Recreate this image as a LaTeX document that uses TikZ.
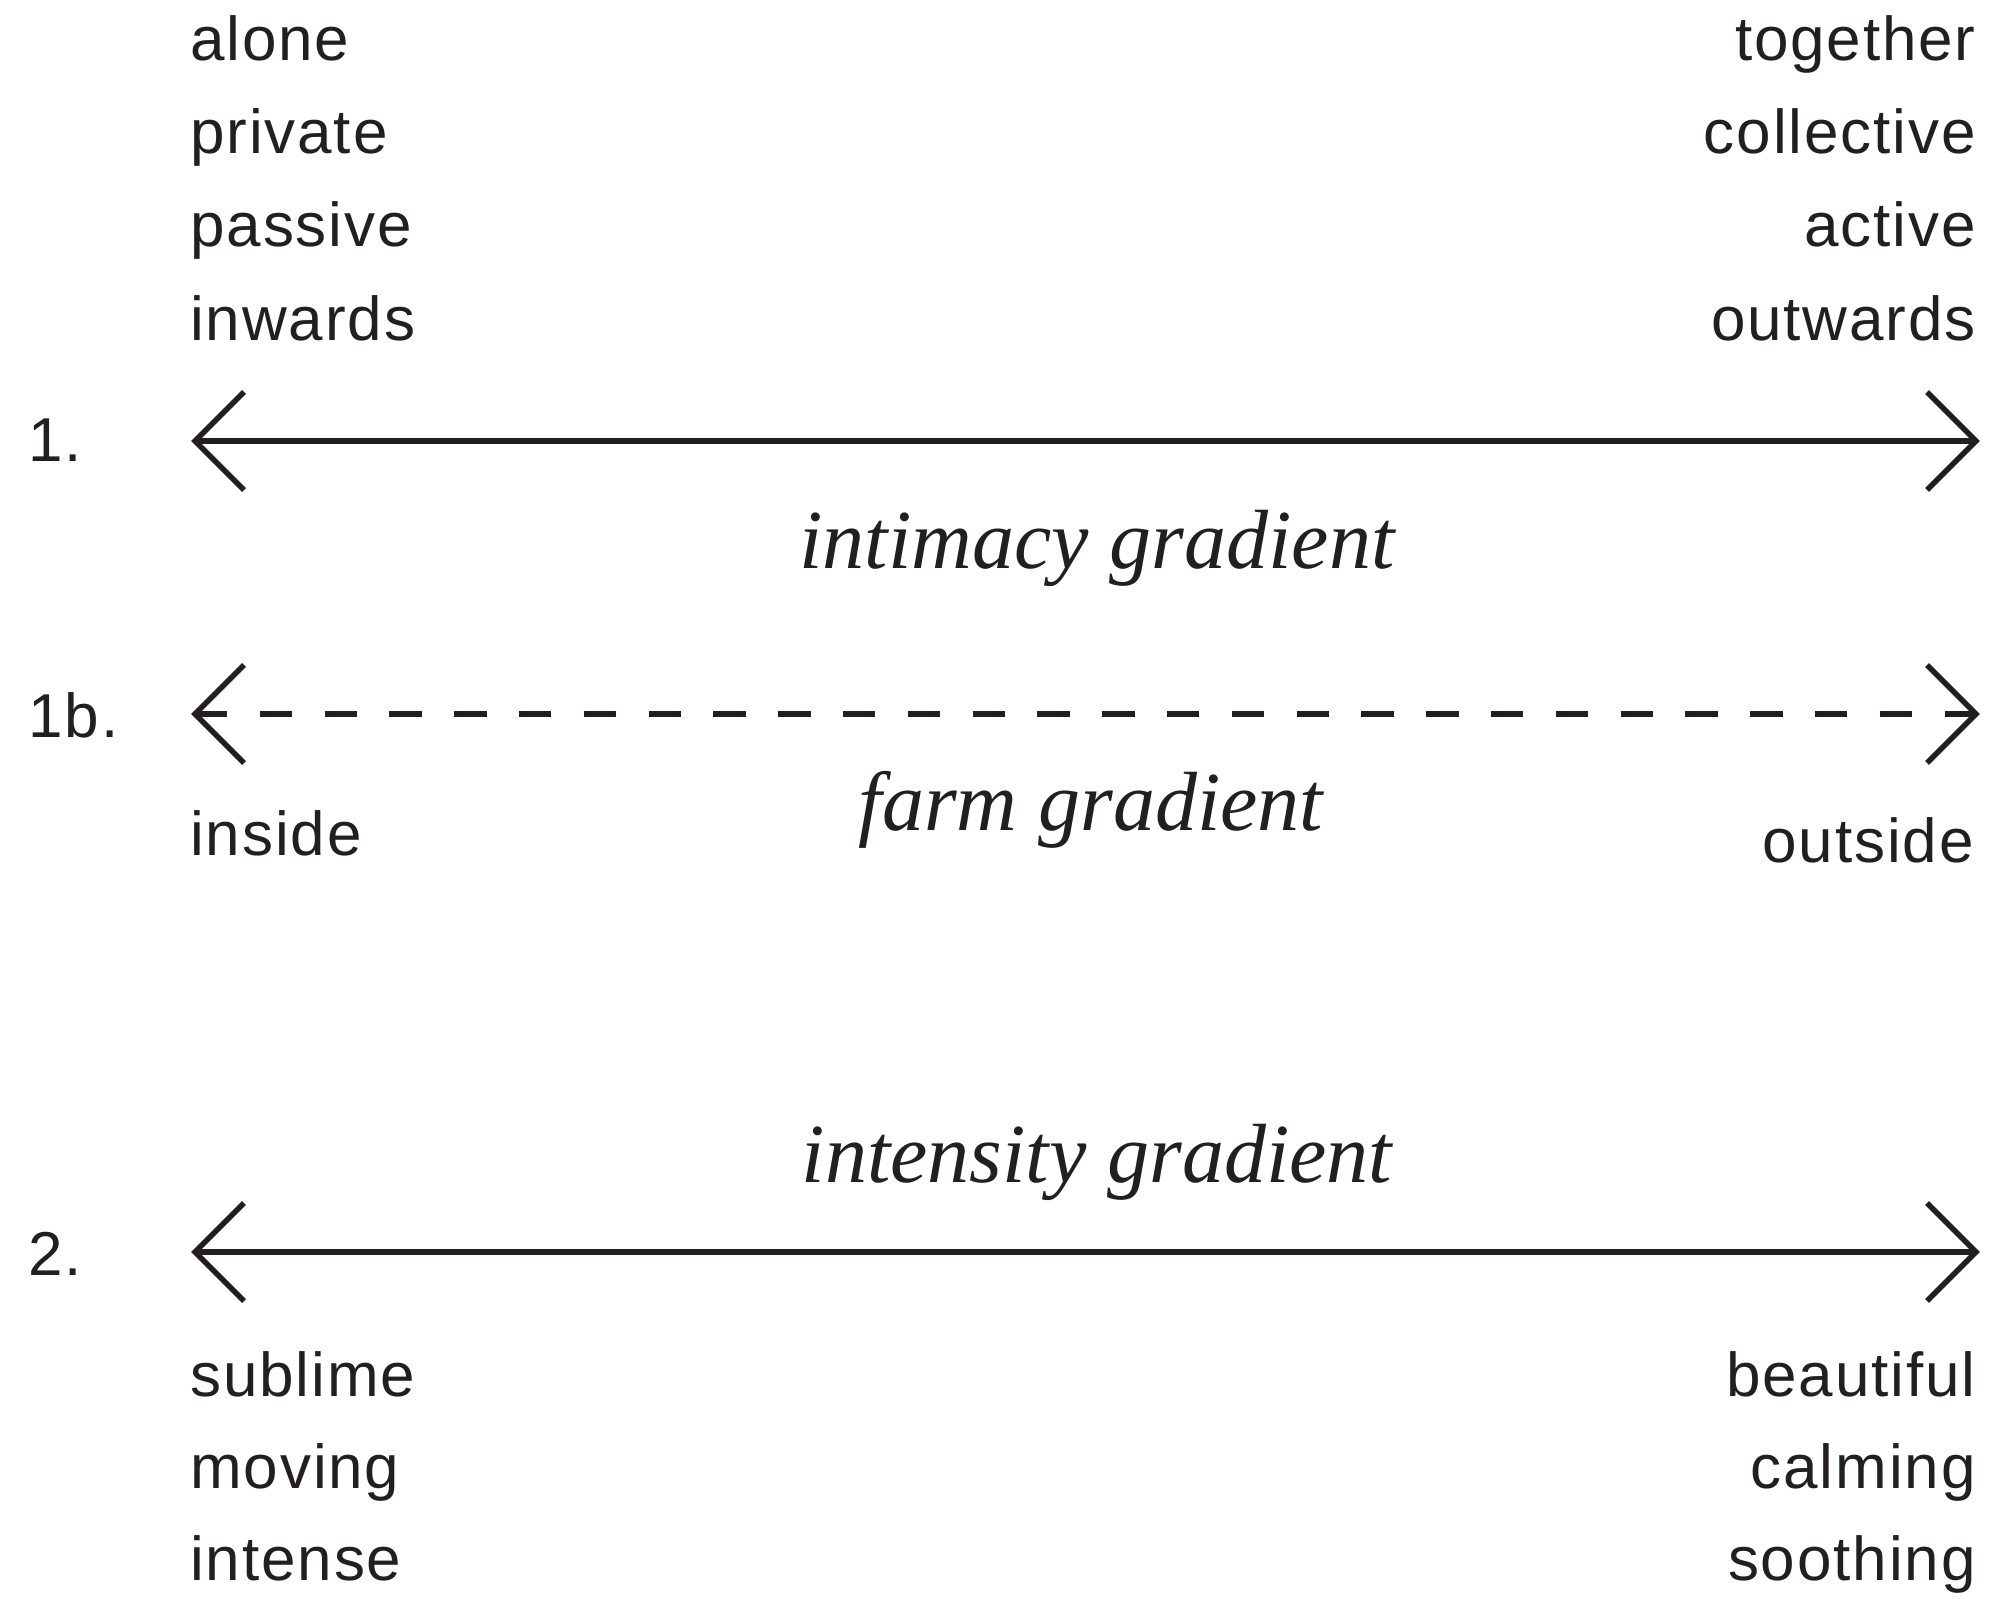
\documentclass[tikz,border=0pt]{standalone}
\usepackage{fontspec}
\newfontfamily\labfont{Liberation Sans}[LetterSpace=3]
\newfontfamily\titfont{Liberation Serif}
\definecolor{ink}{HTML}{231F20}
\begin{document}
\begin{tikzpicture}[x=0.5pt,y=-0.5pt,
  lab/.style={font=\labfont\fontsize{31pt}{31pt}\selectfont, inner sep=0pt, text=ink},
  tit/.style={font=\titfont\itshape\fontsize{42pt}{42pt}\selectfont, inner sep=0pt, text=ink},
  gline/.style={line width=2.8pt, draw=ink},
  barb/.style={line width=2.8pt, draw=ink, line join=miter, line cap=butt}]
\useasboundingbox (0,0) rectangle (1997,1599);
% left words, top group
\node[lab, anchor=base west] (l1) at (190,61) {alone};
\node[lab, anchor=base west] (l2) at (190,154) {private};
\node[lab, anchor=base west] (l3) at (190,247) {passive};
\node[lab, anchor=base west] (l4) at (190,341) {inwards};
% right words, top group
\node[lab, anchor=base east] (r1) at (1976,61) {together};
\node[lab, anchor=base east] (r2) at (1976,154) {collective};
\node[lab, anchor=base east] (r3) at (1976,247) {active};
\node[lab, anchor=base east] (r4) at (1976,341) {outwards};
% numbers
\node[lab, anchor=base west] (n1) at (28,461) {1.};
\node[lab, anchor=base west] (n1b) at (28,737) {1b.};
\node[lab, anchor=base west] (n2) at (28,1275) {2.};
% arrow ends
\coordinate (a1l) at (195,441);
\coordinate (a1r) at (1976,441);
\coordinate (abl) at (195,714);
\coordinate (abr) at (1976,714);
\coordinate (a2l) at (195,1252);
\coordinate (a2r) at (1976,1252);
% arrow 1
\draw[gline] (a1l) -- (a1r);
\draw[barb] (a1l) ++(49,-49) -- (a1l) -- ++(49,49);
\draw[barb] (a1r) ++(-49,-49) -- (a1r) -- ++(-49,49);
\node[tit, anchor=base] (t1) at (1097,568) {intimacy gradient};
% arrow 1b
\draw[gline, dash pattern=on 16.2pt off 16.2pt] (abl) -- (abr);
\draw[barb] (abl) ++(49,-49) -- (abl) -- ++(49,49);
\draw[barb] (abr) ++(-49,-49) -- (abr) -- ++(-49,49);
\node[tit, anchor=base] (t1b) at (1091,830) {farm gradient};
\node[lab, anchor=base west] (in) at (190,855) {inside};
\node[lab, anchor=base east] (out) at (1974,862) {outside};
% arrow 2
\node[tit, anchor=base] (t2) at (1097,1182) {intensity gradient};
\draw[gline] (a2l) -- (a2r);
\draw[barb] (a2l) ++(49,-49) -- (a2l) -- ++(49,49);
\draw[barb] (a2r) ++(-49,-49) -- (a2r) -- ++(-49,49);
% bottom words
\node[lab, anchor=base west] (b1) at (190,1396) {sublime};
\node[lab, anchor=base west] (b2) at (190,1488) {moving};
\node[lab, anchor=base west] (b3) at (190,1580) {intense};
\node[lab, anchor=base east] (c1) at (1976,1396) {beautiful};
\node[lab, anchor=base east] (c2) at (1976,1488) {calming};
\node[lab, anchor=base east] (c3) at (1976,1580) {soothing};
\end{tikzpicture}
\end{document}
